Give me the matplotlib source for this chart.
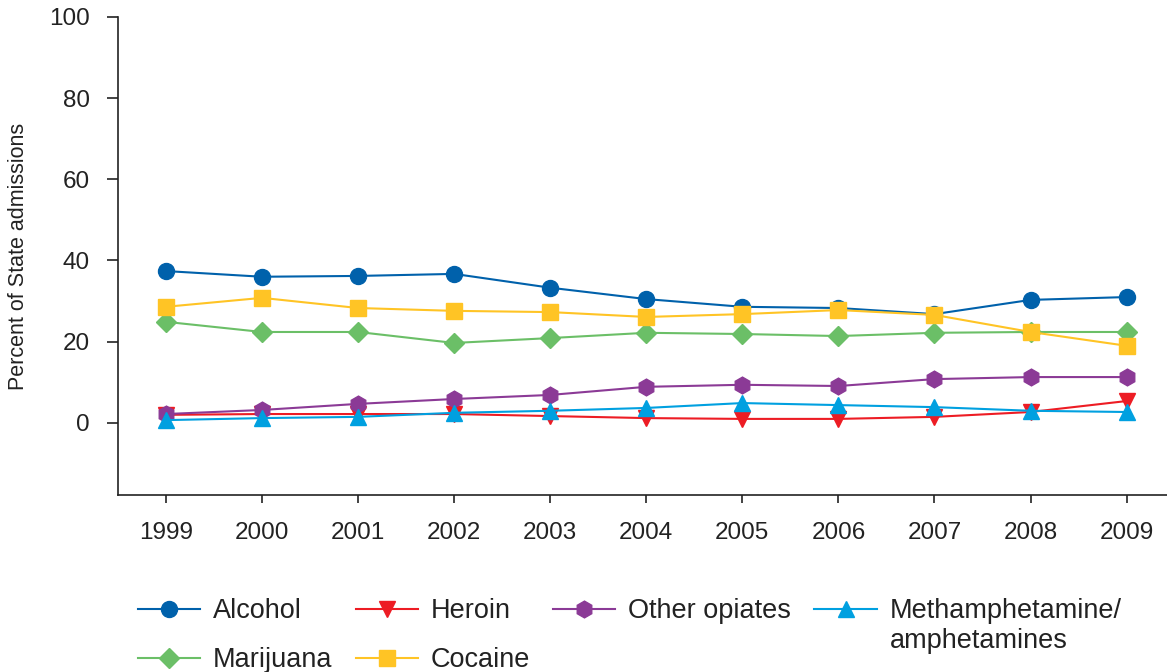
import matplotlib
matplotlib.use("Agg")
import matplotlib.pyplot as plt
from matplotlib.lines import Line2D

plt.rcParams['font.family'] = ['Liberation Sans', 'DejaVu Sans']

years = [1999, 2000, 2001, 2002, 2003, 2004, 2005, 2006, 2007, 2008, 2009]

alcohol = [37.4, 36.0, 36.2, 36.7, 33.3, 30.5, 28.6, 28.3, 26.8, 30.3, 31.0]
marijuana = [24.9, 22.4, 22.4, 19.7, 20.9, 22.2, 21.9, 21.4, 22.2, 22.4, 22.4]
cocaine = [28.6, 30.8, 28.3, 27.6, 27.3, 26.1, 26.8, 27.8, 26.6, 22.4, 19.0]
heroin = [2.0, 2.2, 2.2, 2.2, 1.7, 1.2, 1.0, 1.0, 1.5, 2.7, 5.4]
opiates = [2.2, 3.2, 4.7, 5.9, 6.9, 8.9, 9.4, 9.1, 10.8, 11.3, 11.3]
meth = [0.7, 1.2, 1.5, 2.5, 3.0, 3.7, 4.9, 4.4, 3.9, 3.0, 2.7]

W, H = 1167, 672
fig = plt.figure(figsize=(W / 100, H / 100), dpi=100)
ax = fig.add_axes([0.101, 0.263, 0.899, 0.712])

ms = 11.5
lw = 1.5
l_alc, = ax.plot(years, alcohol, color='#0061AB', marker='o', ms=ms, lw=lw)
l_mar, = ax.plot(years, marijuana, color='#6BBF67', marker='D', ms=ms * 0.85, lw=lw)
l_coc, = ax.plot(years, cocaine, color='#FFC425', marker='s', ms=ms * 0.95, lw=lw)
l_her, = ax.plot(years, heroin, color='#ED1C24', marker='v', ms=ms, lw=lw)
l_opi, = ax.plot(years, opiates, color='#8B3A96', marker='h', ms=ms * 1.05, lw=lw)
l_met, = ax.plot(years, meth, color='#00A0E0', marker='^', ms=ms, lw=lw)

ax.set_xlim(1998.5, 2009.42)
ax.set_ylim(-17.8, 100)
ax.set_xticks(years)
ax.set_yticks([0, 20, 40, 60, 80, 100])
ax.tick_params(direction='out', width=1.2, labelsize=17.5, colors='#222222')
ax.tick_params(axis='x', length=6, pad=13)
ax.tick_params(axis='y', length=8, pad=12)
for s in ['top', 'right']:
    ax.spines[s].set_visible(False)
for s in ['left', 'bottom']:
    ax.spines[s].set_linewidth(1.2)
    ax.spines[s].set_color('#222222')
ax.set_ylabel('Percent of State admissions', fontsize=15.5, color='#222222')
ax.yaxis.set_label_coords(-0.085, 0.5)

blank = Line2D([], [], linestyle='none', marker=None)
handles = [l_alc, l_mar, l_her, l_coc, l_opi, blank, l_met]
labels = ['Alcohol', 'Marijuana', 'Heroin', 'Cocaine', 'Other opiates', '',
          'Methamphetamine/']
leg = fig.legend(handles, labels, loc='upper left', bbox_to_anchor=(0.118, 0.110),
                 ncol=4, frameon=False, fontsize=19.5, handlelength=2.3,
                 handletextpad=0.48, columnspacing=0.85, labelspacing=0.85,
                 borderaxespad=0, borderpad=0, bbox_transform=fig.transFigure)
for t in leg.get_texts():
    t.set_color('#222222')

# second line of the methamphetamine label, hung under the first line
fig.canvas.draw()
bb = leg.get_texts()[-1].get_window_extent()
fig.text(bb.x0 / W, (bb.y0 - 30) / H, 'amphetamines', fontsize=19.5,
         color='#222222', ha='left', va='bottom')

fig.savefig('out.png', dpi=100)
